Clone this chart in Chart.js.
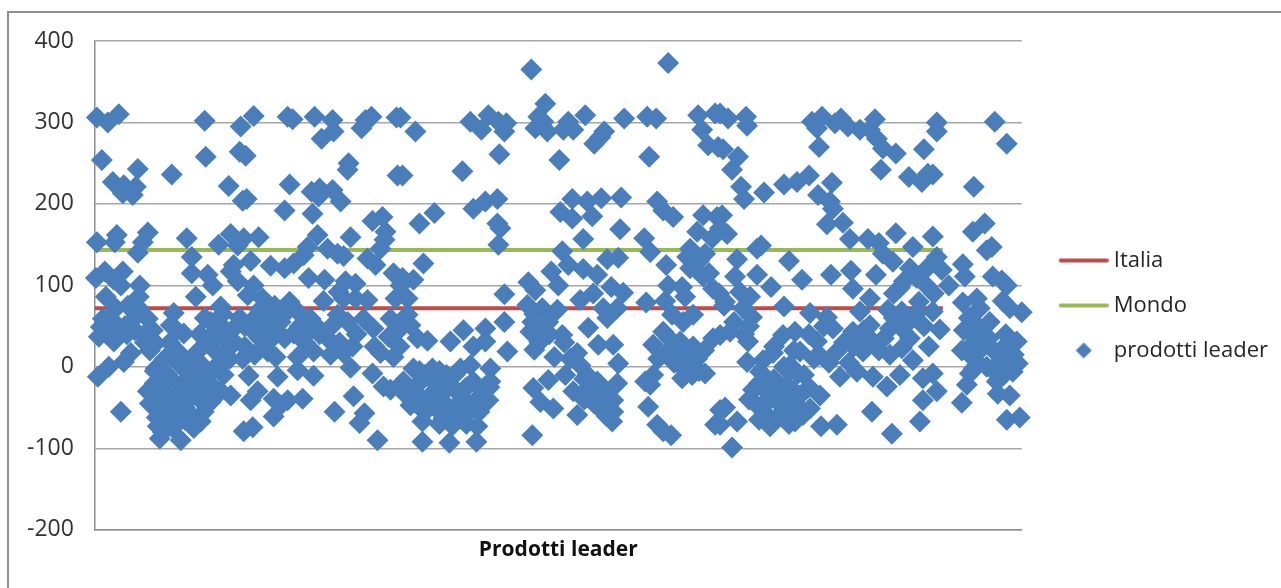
<!DOCTYPE html>
<html>
<head>
<meta charset="utf-8">
<script src="https://cdn.jsdelivr.net/npm/chart.js@4"></script>
<style>
html,body{margin:0;padding:0;background:#fff;overflow:hidden}
#wrap{position:relative;width:1281px;height:588px}
#frame{position:absolute;left:7px;top:11px;right:0;bottom:0;border-left:2px solid #8e8e8e;border-top:2px solid #8e8e8e;pointer-events:none}
canvas{position:absolute;left:0;top:0}
</style>
</head>
<body>
<div id="wrap"><canvas id="c" width="1281" height="588"></canvas><div id="frame"></div></div>
<script>
const italiaValue = 72;
const mondoValue = 143.5;
const referenceSpan = [0, 849];
const seriesNames = ['Italia', 'Mondo', 'prodotti leader'];
const xAxisTitle = 'Prodotti leader';

const productsLeft = [
[2,306],[13,300],[24,310],[110,302],[146,295],[159,308],[193,307],[198,304],[220,307],[238,303],[239,289],[227,280],[267,293],[271,303],[277,307],[302,306],
[7,254],[43,243],[18,227],[29,223],[41,221],[28,213],[38,211],[77,236],[111,258],[145,264],[151,259],[134,222],[148,204],[152,206],[195,224],[254,250],[253,242],[303,235],[217,215],[225,219],[238,217],[224,209],[246,203],[190,192],[218,188],
[2,153],[22,162],[20,153],[53,165],[48,153],[43,140],[92,158],[97,135],[136,163],[124,150],[143,149],[149,158],[164,159],[223,162],[213,147],[233,145],[243,139],[249,136],[256,159],[278,179],[288,184],[291,166],[290,156],[273,133],[281,125],[286,145],
[1,109],[10,117],[28,117],[19,107],[26,100],[45,100],[97,115],[113,113],[118,100],[101,86],[139,125],[156,130],[136,117],[143,105],[176,124],[190,121],[199,127],[209,137],[214,109],[230,107],[251,105],[261,102],[244,92],[249,84],[229,81],[261,84],[273,82],[299,115],[306,100],[301,84],
[11,86],[44,86],[126,74],[159,100],[153,88],[168,84],
[79,66],[21,72],[44,72],[8,59],[19,55],[39,59],[53,59],[76,51],[6,49],[4,37],[19,31],[49,39],[61,29],[89,41],[116,55],[126,51],[119,35],[139,47],[159,43],[173,64],[186,55],[203,68],[216,59],[233,35],[179,37],[199,41],[243,64],[253,55],[269,59],[279,47],[296,59],[294,37],[306,47],
[14,0],[29,6],[36,17],[3,-12],[83,19],[103,19],[133,23],[129,6],[173,19],[181,12],[203,12],[203,-4],[219,-11],[236,15],[258,25],[256,-1],[249,17],[286,17],[299,12],[278,-8],[183,-12],[154,-11],[219,19],
[61,-2],[73,-10],[89,-2],[109,-10],[53,-30],[66,-22],[86,-22],[103,-22],[119,-2],[129,-10],[136,-35],[163,-30],[156,-41],[179,-39],[193,-41],[208,-39],[259,-36],[289,-24],[296,-28],[306,-22],
[59,-47],[76,-43],[93,-39],[116,-43],[109,-55],[66,-59],[79,-63],[96,-59],[126,-30],[26,-55],[179,-61],[240,-55],[270,-57],[265,-69],[158,-74],[149,-79],[63,-73],[65,-88],[86,-90],[99,-75],[106,-67],[283,-90],[186,-47],
[70,-30],[80,-45],[90,-50],[60,-20],[75,-15],[85,-30],[105,-40],[100,-15],[115,-20],[70,-70],[78,-75],[90,-65],[110,-5],[50,30],[55,20],[70,10],[85,15],[95,5],[120,20],[140,30],[150,25],[165,35],[175,45],[190,35],[210,30],[225,40],[245,30],[262,40],[280,25],[305,25],
[60,-5],[65,-35],[72,-50],[82,-60],[92,-25],[98,-35],[108,-30],[68,-80],[75,-62],[55,-45],[62,-62],[83,5],[105,5],[112,30],[122,45],[130,35],[145,60],[150,50],[160,60],[165,70],[170,55],[180,75],[190,65],[195,80],[205,50],[212,40],[222,50],[237,50],[110,60],[105,40],[128,65],[135,10],[148,10],[160,15],[20,45],[30,50],[32,40],[12,40],[15,60],[33,75],[40,45],[58,45],[75,30],[82,45]
];

const productsMiddle = [
[376,301],[387,291],[394,309],[404,301],[412,299],[410,289],[451,323],[444,307],[441,293],[449,301],[453,289],[469,291],[474,301],[479,291],[491,309],[510,289],[506,282],[500,274],[530,305],[553,307],[562,305],[604,309],[621,311],[608,291],[614,272],[624,270],
[437,365],[574,373],[321,289],[306,306],
[405,261],[465,254],[555,258],[368,240],[308,235],
[379,194],[391,203],[403,206],[403,176],[406,170],[404,150],[325,176],[340,189],[478,206],[466,190],[478,182],[493,203],[498,185],[507,207],[527,208],[563,203],[569,192],[579,184],[609,186],[603,166],[623,184],[618,158],[489,157],[526,169],[550,158],[556,141],
[468,142],[513,132],[524,134],[474,125],[457,117],[489,120],[503,113],[572,125],[593,135],[596,145],[611,139],[596,121],[609,111],[329,127],
[319,107],[308,109],[434,104],[441,94],[464,100],[517,98],[529,91],[499,90],[486,82],[574,100],[588,98],[591,86],[619,96],[410,89],[313,84],[552,79],[571,81],
[433,76],[448,72],[463,70],[509,72],[523,72],[513,60],[578,64],[599,64],[589,55],[313,64],[316,51],
[410,55],[438,55],[454,55],[494,48],[436,43],[449,43],[468,39],[569,43],[323,35],[333,32],[369,45],[391,47],[356,31],[391,31],[379,25],[559,27],[586,31],[599,25],[619,35],
[413,19],[440,21],[460,12],[483,17],[504,27],[519,27],[564,10],[586,15],[603,10],
[486,2],[524,4],[471,-10],[376,2],[396,-2],[366,-2],[319,-2],[338,-2],[589,-2],[611,-8],[559,-10],[588,-14],[493,-10],
[551,-18],[523,-20],[503,-18],[454,-16],[439,-26],[479,-30],[556,-22],[396,-18],[379,-18],[356,-22],[339,-18],[323,-22],[309,-18],
[519,-41],[446,-43],[459,-51],[394,-41],[383,-39],[369,-39],[349,-43],[333,-39],[316,-47],[554,-49],[506,-51],[519,-55],[483,-59],[626,-53],
[366,-63],[349,-63],[328,-67],[383,-73],[518,-67],[563,-71],[621,-71],
[328,-92],[355,-93],[382,-92],[438,-84],[569,-79],[577,-84],
[340,-30],[360,-50],[375,-55],[345,-55],[320,-30],[330,-55],[352,-10],[372,-25],[390,-25],[362,-30],[495,-25],[510,-30],[500,-45],[512,-60],[490,-40],[575,20],[595,5],[605,-5],
[325,-5],[345,-5],[350,-30],[360,-10],[370,-45],[335,-50],[322,-40],[345,-70],[358,-72],[372,-70],[385,-55],[395,-25],[330,-10],[312,-35],[440,65],[455,40],[445,30],[470,30],[476,10],[490,-15],[498,-30],[507,-35],[515,-45],[515,-60],[575,35],[590,20],[600,15],[610,20],[580,5],[598,-10],[605,130],[615,115],[625,90],[630,75]
];

const productsRight = [
[634,305],[652,307],[653,296],[626,311],[718,301],[728,307],[723,293],[747,305],[741,299],[754,295],[766,291],[776,291],[781,304],[783,280],[789,268],[802,262],[725,270],[843,300],[843,289],[901,301],[830,267],[913,274],[629,267],[644,258],[638,242],[787,242],
[647,221],[650,206],[670,214],[690,224],[703,227],[715,235],[738,226],[815,233],[828,227],[834,237],[839,236],[880,221],[724,211],[736,203],[739,194],[628,186],[633,163],[626,170],[733,175],[749,177],[756,157],[774,157],[802,164],[891,176],[879,166],[785,152],[839,160],[819,147],[667,149],[663,145],[898,147],[893,143],
[643,132],[695,130],[789,139],[843,135],[869,126],[641,111],[663,113],[708,107],[737,113],[757,118],[782,113],[799,129],[816,121],[833,121],[848,119],[871,111],[677,98],[759,96],[806,97],[823,109],[834,98],[899,111],[913,100],[908,106],
[646,92],[656,86],[631,80],[690,74],[776,84],[869,79],[883,84],[909,81],[916,72],[928,67],[886,72],
[649,72],[658,61],[716,66],[733,61],[766,68],[794,70],[808,68],[823,66],[839,68],[896,55],
[636,43],[654,31],[846,46],[689,39],[701,43],[723,31],[739,47],[759,43],[776,51],[796,47],[816,35],[808,47],[876,43],[886,43],[626,39],[878,27],[868,20],
[923,31],[909,23],[901,19],[706,19],[679,17],[669,8],[653,6],[743,19],[769,19],[796,15],[808,23],[819,8],[924,4],[916,6],[893,0],[883,2],[696,2],
[666,-6],[704,-8],[746,-12],[763,-6],[779,-12],[806,-10],[829,-14],[839,-8],[919,-6],[876,-8],
[793,-24],[659,-28],[693,-22],[726,-35],[843,-30],[873,-22],[903,-18],[904,-33],[916,-35],
[663,-47],[676,-39],[689,-43],[706,-35],[716,-51],[829,-41],[868,-44],[631,-50],[778,-55],
[673,-59],[693,-55],[709,-59],[643,-67],[676,-73],[701,-67],[727,-73],[743,-71],[826,-67],[913,-65],[926,-62],[798,-82],[638,-99],[626,-71],
[668,-25],[680,-15],[700,-30],[685,-60],[665,-65],[715,-25],[695,-5],[680,25],[725,15],[755,5],[785,20],[760,25],[835,25],[880,10],[890,25],[905,5],[912,40],[895,35],
[650,40],[640,55],[655,50],[700,20],[715,40],[730,50],[750,30],[765,30],[775,35],[770,45],[780,30],[790,35],[800,60],[815,55],[830,50],[825,80],[840,90],[800,90],[810,105],[855,100],[655,-40],[670,-45],[685,-30],[695,-45],[705,-50],[685,-45],[695,-70],[665,-20],[710,-10],[720,10],[735,5],[690,0],[875,60],[880,55],[885,20],[880,-2],[870,45],[915,20],[920,15],[900,-5],[910,-10]
];

const toPoints = list => list.map(([x, y]) => ({x, y}));
const uiFont = '"Open Sans", "Noto Sans", sans-serif';
const redLine = '#be4b48', greenLine = '#98b954', blueMark = '#4a7ebb';

function legendIcon(draw) {
  const icon = document.createElement('canvas');
  icon.width = 70; icon.height = 20;
  draw(icon.getContext('2d'));
  return icon;
}
const lineIcon = color => legendIcon(ctx => {
  ctx.strokeStyle = color; ctx.lineWidth = 4; ctx.lineCap = 'round';
  ctx.beginPath(); ctx.moveTo(22, 10); ctx.lineTo(68, 10); ctx.stroke();
});
const diamondIcon = legendIcon(ctx => {
  ctx.fillStyle = blueMark;
  ctx.beginPath(); ctx.moveTo(45, 2); ctx.lineTo(53, 10); ctx.lineTo(45, 18); ctx.lineTo(37, 10); ctx.closePath(); ctx.fill();
});
const legendIcons = [lineIcon(redLine), lineIcon(greenLine), diamondIcon];

new Chart(document.getElementById('c'), {
  type: 'scatter',
  data: {
    datasets: [
      {label: seriesNames[0], data: referenceSpan.map(x => ({x, y: italiaValue})), showLine: true, borderColor: redLine, backgroundColor: redLine, borderWidth: 4, pointRadius: 0, order: 2},
      {label: seriesNames[1], data: referenceSpan.map(x => ({x, y: mondoValue})), showLine: true, borderColor: greenLine, backgroundColor: greenLine, borderWidth: 4, pointRadius: 0, order: 1},
      {label: seriesNames[2], data: toPoints([...productsLeft, ...productsMiddle, ...productsRight]), backgroundColor: blueMark, borderColor: blueMark, borderWidth: 0, pointRadius: 11, pointHoverRadius: 11, pointStyle: 'rectRot', clip: false, order: 0}
    ]
  },
  options: {
    responsive: false,
    animation: false,
    layout: {padding: {top: 41, bottom: 18, left: 6, right: 3}},
    plugins: {
      tooltip: {enabled: false},
      legend: {
        position: 'right',
        labels: {
          usePointStyle: true,
          pointStyleWidth: 58,
          boxHeight: 12,
          padding: 23,
          color: '#262626',
          font: {family: uiFont, size: 22},
          sort: (a, b) => a.datasetIndex - b.datasetIndex,
          generateLabels: chart => Chart.defaults.plugins.legend.labels.generateLabels(chart)
            .map(item => ({...item, pointStyle: legendIcons[item.datasetIndex]}))
        }
      }
    },
    scales: {
      x: {
        type: 'linear', min: 0, max: 928,
        grid: {display: false},
        border: {color: '#8e8e8e', width: 1.5},
        ticks: {display: false},
        title: {display: true, text: xAxisTitle, color: '#111', padding: {top: 0, bottom: 7}, font: {family: uiFont, size: 21, weight: 'bold'}}
      },
      y: {
        min: -200, max: 400,
        grid: {color: '#a6a6a6', lineWidth: 1.5, drawTicks: false},
        border: {color: '#8e8e8e', width: 1.5},
        ticks: {stepSize: 100, padding: 21, color: '#333', font: {family: uiFont, size: 23}}
      }
    }
  }
});
</script>
</body>
</html>
